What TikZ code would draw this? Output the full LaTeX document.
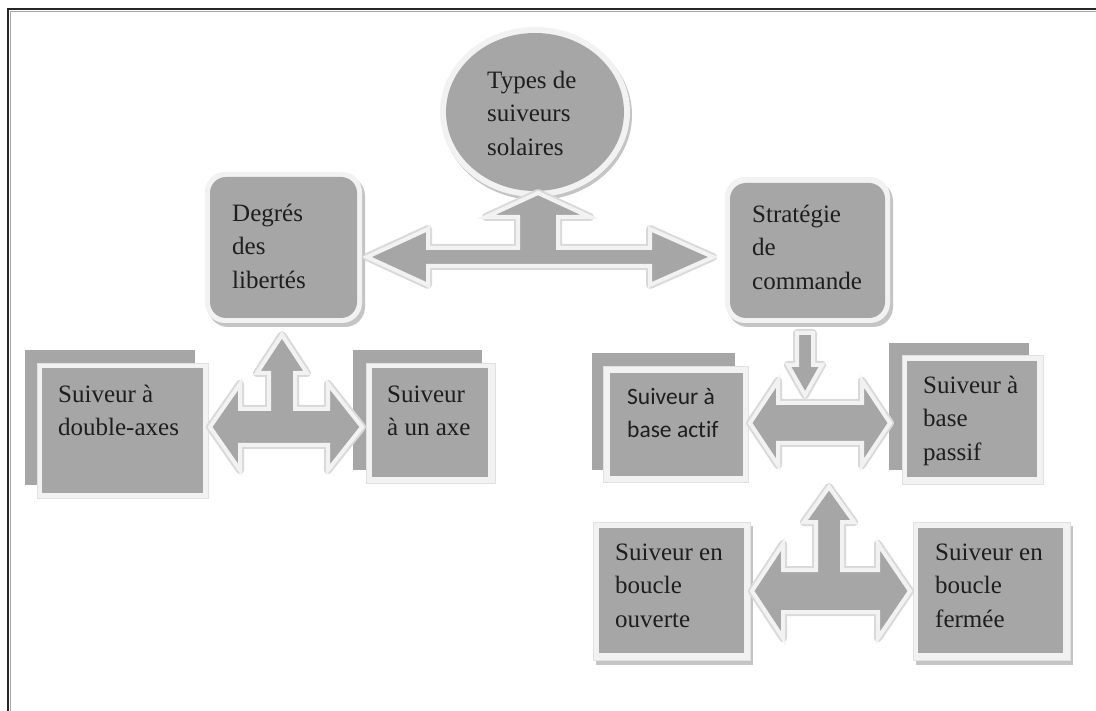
\documentclass[tikz,border=0pt]{standalone}
\usepackage{fontspec}
\setmainfont{Liberation Serif}
\newfontfamily\calib[Ligatures=NoCommon]{Carlito}
\definecolor{boxgrey}{HTML}{A6A6A6}
\definecolor{rimwhite}{HTML}{F2F2F2}
\definecolor{halogrey}{HTML}{D9D9D9}
\definecolor{shadowgrey}{HTML}{C4C4C4}
\definecolor{textgrey}{HTML}{1E1E1E}
\tikzset{
  arrowhalo/.style={draw=halogrey, line width=8pt, line join=round},
  arrowshape/.style={fill=boxgrey, draw=rimwhite, line width=4pt, line join=miter},
  backrect/.style={fill=boxgrey},
  rimrect/.style={fill=rimwhite, draw=black!12, line width=0.6pt},
  greyrect/.style={fill=boxgrey},
  shadowfill/.style={fill=shadowgrey},
  lbl/.style={anchor=north west, inner sep=0pt, align=left, text=textgrey,
              font=\fontsize{25}{33.5}\selectfont},
  lblsans/.style={anchor=north west, inner sep=0pt, align=left, text=textgrey,
              font=\calib\fontsize{23.5}{33}\selectfont},
}
\newcommand\blockarrow[1]{\draw[arrowhalo] #1; \draw[arrowshape] #1;}
\begin{document}
\begin{tikzpicture}[x=1pt,y=-1pt]
\useasboundingbox (0,0) rectangle (1096,711);
\fill[white] (0,0) rectangle (1096,711);
% frame (top and left edges)
\draw[line width=2.2pt, black!85] (8,711) -- (8,9) -- (1096,9);
\draw[line width=0.8pt, black!35] (10.5,711) -- (10.5,11.5) -- (1096,11.5);

% central ellipse
\fill[shadowfill] (537,115) ellipse [x radius=95, y radius=85];
\fill[rimwhite] (535,112) ellipse [x radius=95, y radius=85];
\fill[greyrect] (535,112) ellipse [x radius=89, y radius=79];
\node[lbl] (t-types) at (487,64.55) {\strut Types de\\suiveurs\\solaires};

% rounded boxes
\fill[shadowfill, rounded corners=20] (208,176) rectangle (365,327);
\fill[rimwhite, rounded corners=20] (205,172) rectangle (362,323);
\fill[greyrect, rounded corners=16] (210,177) rectangle (357,318);
\node[lbl] (t-degres) at (232,197.55) {\strut Degrés\\des\\libertés};

\fill[shadowfill, rounded corners=20] (728,181) rectangle (893,327);
\fill[rimwhite, rounded corners=20] (725,177) rectangle (890,323);
\fill[greyrect, rounded corners=16] (730,183) rectangle (885,318);
\node[lbl] (t-strat) at (752,198.55) {\strut Stratégie\\de\\commande};

% top T arrow
\blockarrow{(367,257) -- (428,229) -- (428,248) -- (518,248) -- (518,217) -- (486,217) -- (538,193) -- (590,217) -- (558,217) -- (558,248) -- (650,248) -- (650,229) -- (713,257) -- (650,285) -- (650,266) -- (428,266) -- (428,285) -- cycle}

% left group boxes
\fill[backrect] (25,350) rectangle (195,485);
\fill[rimrect] (37,363) rectangle (208,498);
\fill[greyrect] (42,368) rectangle (203,493);
\node[lbl] (t-double) at (58,378.55) {\strut Suiveur à\\double-axes};

\fill[backrect] (353,350) rectangle (482,470);
\fill[rimrect] (366,363) rectangle (495,483);
\fill[greyrect] (372,368) rectangle (488,477);
\node[lbl] (t-unaxe) at (387,378.55) {\strut Suiveur\\à un axe};

% left T arrow
\blockarrow{(210,427) -- (240,384) -- (240,409) -- (269,409) -- (269,373) -- (257,373) -- (282,335) -- (307,373) -- (295,373) -- (295,409) -- (328,409) -- (328,384) -- (362,427) -- (328,470) -- (328,445) -- (240,445) -- (240,470) -- cycle}

% right group boxes
\fill[backrect] (592,353) rectangle (735,470);
\fill[rimrect] (603,366) rectangle (748,482);
\fill[greyrect] (610,373) rectangle (743,476);
\node[lblsans] (t-actif) at (627,380.9) {\strut Suiveur à\\base actif};

\fill[backrect] (889,343) rectangle (1029,470);
\fill[rimrect] (902,355) rectangle (1043,484);
\fill[greyrect] (907,361) rectangle (1037,477);
\node[lbl] (t-passif) at (923,369.55) {\strut Suiveur à\\base\\passif};

% small down arrow
\blockarrow{(797,333) -- (813,333) -- (813,365) -- (822,365) -- (805,395) -- (788,365) -- (797,365) -- cycle}

% middle double arrow
\blockarrow{(750,423) -- (778,381) -- (778,403) -- (862,403) -- (862,381) -- (890,423) -- (862,465) -- (862,443) -- (778,443) -- (778,465) -- cycle}

% bottom boxes
\fill[shadowfill] (596,526) rectangle (753,665);
\fill[rimrect] (593,522) rectangle (750,660);
\fill[greyrect] (599,528) rectangle (744,653);
\node[lbl] (t-ouverte) at (615,536.55) {\strut Suiveur en\\boucle\\ouverte};

\fill[shadowfill] (916,526) rectangle (1073,665);
\fill[rimrect] (913,522) rectangle (1070,660);
\fill[greyrect] (918,528) rectangle (1063,653);
\node[lbl] (t-fermee) at (935,536.55) {\strut Suiveur en\\boucle\\fermée};

% bottom T arrow
\blockarrow{(752,591) -- (783,544) -- (783,570) -- (816,570) -- (816,522) -- (804,522) -- (829,487) -- (854,522) -- (842,522) -- (842,570) -- (878,570) -- (878,544) -- (910,591) -- (878,638) -- (878,612) -- (783,612) -- (783,638) -- cycle}
\end{tikzpicture}
\end{document}
